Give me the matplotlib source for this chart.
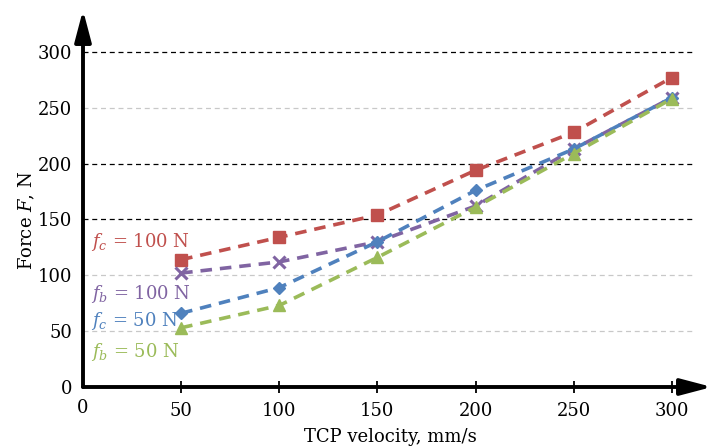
"""
Force vs. TCP velocity for different cutting/back forces
"""

import matplotlib.pyplot as plt

velocity = [50, 100, 150, 200, 250, 300]
fc_100 = [114, 134, 154, 194, 228, 277]
fb_100 = [102, 112, 130, 162, 213, 259]
fc_50 = [66, 89, 130, 176, 213, 259]
fb_50 = [53, 73, 116, 161, 209, 258]

series_labels = [r"$f_c$ = 100 N", r"$f_b$ = 100 N", r"$f_c$ = 50 N", r"$f_b$ = 50 N"]
x_ticks = [0, 50, 100, 150, 200, 250, 300]
y_ticks = [0, 50, 100, 150, 200, 250, 300]
dark_grid = [150, 200, 300]
light_grid = [50, 100, 250]

red = "#C0504D"
purple = "#8064A2"
blue = "#4F81BD"
green = "#9BBB59"

plt.rcParams['font.family'] = ['DejaVu Serif']
plt.rcParams['mathtext.fontset'] = 'dejavuserif'

fig = plt.figure(figsize=(7.14, 4.46), dpi=100)
ax = fig.add_axes([83 / 714, 59 / 446, 629 / 714, 377 / 446])
ax.set_xlim(0, 320.5)
ax.set_ylim(0, 337.5)

for s in ax.spines.values():
    s.set_visible(False)

# grid lines
ax.hlines(dark_grid, 0, 312, colors="black", linestyles=(0, (4, 3)), lw=0.9, zorder=1)
ax.hlines(light_grid, 0, 312, colors="#C8C8C8", linestyles=(0, (4, 3)), lw=0.9, zorder=1)

# axes with arrows
arrow = dict(arrowstyle="-|>,head_length=0.95,head_width=0.25",
             lw=2.8, color="black", mutation_scale=20, shrinkA=0, shrinkB=0)
ax.annotate("", xy=(1, 0), xytext=(0, 0), xycoords="axes fraction",
            arrowprops=arrow, annotation_clip=False, zorder=5)
ax.annotate("", xy=(0, 1), xytext=(0, 0), xycoords="axes fraction",
            arrowprops=arrow, annotation_clip=False, zorder=5)

dash = (0, (3.2, 2.2))
ax.plot(velocity, fc_100, color=red, ls=dash, lw=2.6, marker="s", ms=8, zorder=3)
ax.plot(velocity, fb_100, color=purple, ls=dash, lw=2.6, marker="x", ms=9, mew=2.2, zorder=3)
ax.plot(velocity, fc_50, color=blue, ls=dash, lw=2.6, marker="D", ms=6.5, zorder=3)
ax.plot(velocity, fb_50, color=green, ls=dash, lw=2.6, marker="^", ms=8, zorder=3)

ax.set_xticks(x_ticks[1:])
ax.set_yticks(y_ticks)
ax.tick_params(axis="x", direction="inout", length=9, width=1.3, labelsize=13, pad=6)
ax.tick_params(axis="y", length=0, labelsize=13, pad=8)
ax.text(0, -11, "0", ha="center", va="top", fontsize=13)
ax.set_xticklabels([str(v) for v in x_ticks[1:]])

ax.set_xlabel("TCP velocity, mm/s", fontsize=13)
ax.set_ylabel(r"Force $F$, N", fontsize=13)
ax.xaxis.set_label_coords(0.488, -0.11)
ax.yaxis.set_label_coords(-0.073, 0.443)

label_y = [130, 83, 59, 31]
for txt, y, c in zip(series_labels, label_y, [red, purple, blue, green]):
    ax.text(4, y, txt, color=c, fontsize=13, ha="left", va="center")

plt.savefig("out.png", dpi=100)
